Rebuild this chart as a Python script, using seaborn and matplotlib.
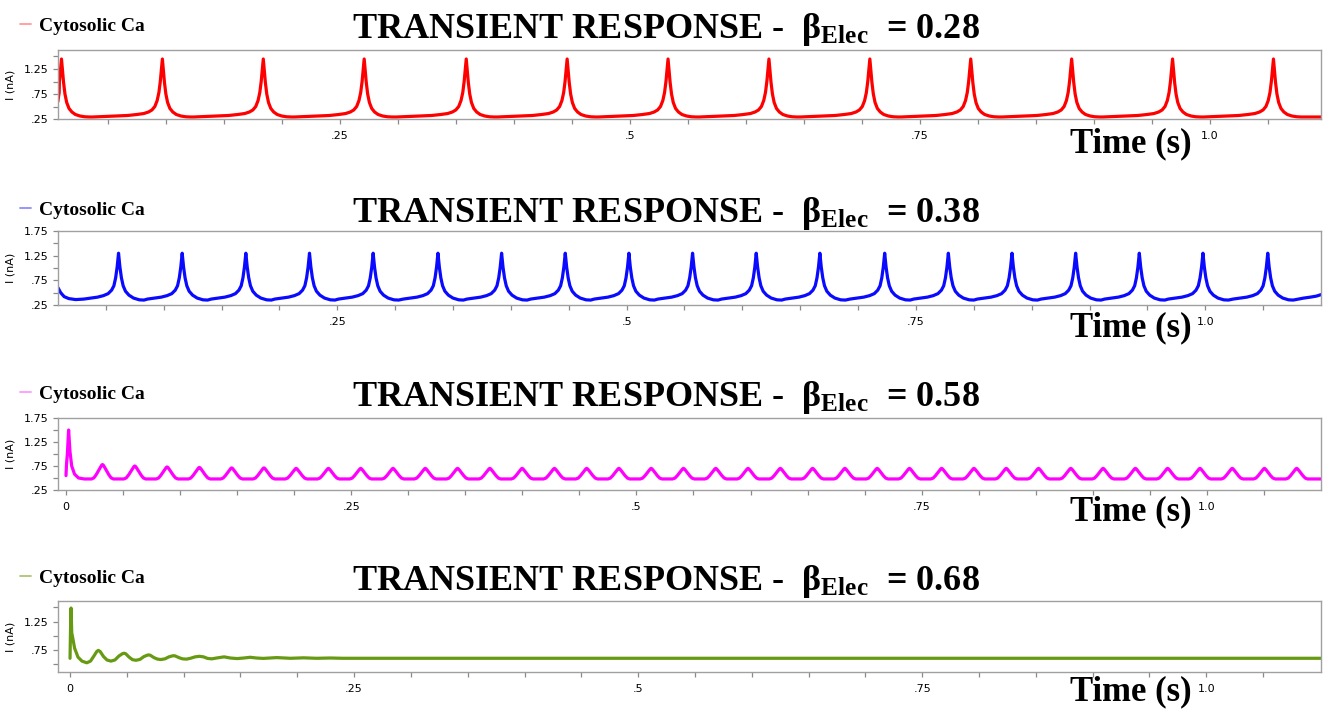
import numpy as np
import pandas as pd
import matplotlib
matplotlib.use("Agg")
import matplotlib.pyplot as plt
import seaborn as sns
from matplotlib.lines import Line2D
from matplotlib.ticker import FixedLocator, FixedFormatter

# ------------------------------------------------------------------
# Data
# ------------------------------------------------------------------
series_label = "Cytosolic Ca"
beta_values = ["0.28", "0.38", "0.58", "0.68"]
x_major_ticks = [0.0, 0.25, 0.5, 0.75, 1.0]
x_major_labels = ["0", ".25", ".5", ".75", "1.0"]
x_minor_ticks = [0.05, 0.10, 0.15, 0.20, 0.30, 0.35, 0.40, 0.45, 0.55, 0.60,
                 0.65, 0.70, 0.80, 0.85, 0.90, 0.95, 1.05]

# Panel 1  (beta = 0.28): spike times (s), peak currents (nA), one spike shape
p1_peak_t = [0.010, 0.097, 0.184, 0.271, 0.359, 0.446, 0.533, 0.620, 0.707,
             0.794, 0.881, 0.968, 1.055]
p1_peak_y = [1.45, 1.45, 1.45, 1.45, 1.45, 1.45, 1.45, 1.45, 1.45, 1.45, 1.45,
             1.45, 1.45]
p1_base = 0.29
p1_shape_dt = [-0.060, -0.050, -0.040, -0.030, -0.022, -0.016, -0.012, -0.009,
               -0.0065, -0.0045, -0.003, -0.0018, -0.0008, 0.0, 0.0008, 0.0018,
               0.003, 0.0045, 0.0065, 0.009, 0.012, 0.016, 0.020, 0.024]
p1_shape_f = [0.0, 0.009, 0.017, 0.026, 0.043, 0.060, 0.086, 0.121, 0.181,
              0.284, 0.422, 0.612, 0.828, 1.0, 0.828, 0.595, 0.397, 0.250,
              0.147, 0.086, 0.043, 0.017, 0.004, 0.0]
p1_head_t, p1_head_y = [0.0069, 0.0080], [0.60, 0.78]
p1_tail_t, p1_tail_y = [1.096], [0.29]

# Panel 2  (beta = 0.38)
p2_peak_t = [0.061, 0.116, 0.171, 0.226, 0.281, 0.337, 0.392, 0.447, 0.502,
             0.557, 0.612, 0.667, 0.723, 0.778, 0.833, 0.888, 0.943, 0.998,
             1.054]
p2_peak_y = [1.30, 1.30, 1.30, 1.30, 1.30, 1.30, 1.30, 1.30, 1.30, 1.30, 1.30,
             1.30, 1.30, 1.30, 1.30, 1.30, 1.30, 1.30, 1.30]
p2_base = 0.35
p2_shape_dt = [-0.030, -0.024, -0.018, -0.013, -0.009, -0.006, -0.004, -0.0025,
               -0.0012, 0.0, 0.0012, 0.0025, 0.004, 0.006, 0.009, 0.013, 0.018,
               0.022]
p2_shape_f = [0.021, 0.042, 0.063, 0.095, 0.137, 0.211, 0.305, 0.474, 0.705,
              1.0, 0.705, 0.474, 0.305, 0.189, 0.105, 0.042, 0.005, 0.0]
p2_head_t, p2_head_y = [0.0087, 0.011, 0.014, 0.018, 0.024], [0.60, 0.50, 0.42, 0.38, 0.36]
p2_tail_t, p2_tail_y = [1.085, 1.091, 1.096, 1.100], [0.39, 0.41, 0.43, 0.46]

# Panel 3  (beta = 0.58)
p3_peak_t = [0.0320, 0.0603, 0.0886, 0.1169, 0.1452, 0.1735, 0.2017, 0.2300,
             0.2583, 0.2866, 0.3149, 0.3432, 0.3715, 0.3998, 0.4281, 0.4564,
             0.4846, 0.5129, 0.5412, 0.5695, 0.5978, 0.6261, 0.6544, 0.6827,
             0.7110, 0.7393, 0.7675, 0.7958, 0.8241, 0.8524, 0.8807, 0.9090,
             0.9373, 0.9656, 0.9939, 1.0222, 1.0504, 1.0787]
p3_peak_y = [0.78, 0.75, 0.73, 0.72, 0.71, 0.71, 0.70, 0.70, 0.70, 0.70, 0.70,
             0.70, 0.70, 0.70, 0.70, 0.70, 0.70, 0.70, 0.70, 0.70, 0.70, 0.70,
             0.70, 0.70, 0.70, 0.70, 0.70, 0.70, 0.70, 0.70, 0.70, 0.70, 0.70,
             0.70, 0.70, 0.70, 0.70, 0.70]
p3_base = 0.48
p3_shape_dt = [-0.0095, -0.0075, -0.0055, -0.0035, -0.0018, -0.0007, 0.0,
               0.0007, 0.0018, 0.0035, 0.0055, 0.0075, 0.0095, 0.0120]
p3_shape_f = [0.0, 0.08, 0.30, 0.58, 0.82, 0.96, 1.0, 0.96, 0.82, 0.58, 0.30,
              0.08, 0.0, 0.0]
p3_head_t = [0.0, 0.0005, 0.0012, 0.0023, 0.0035, 0.0050, 0.0075, 0.0110, 0.0160]
p3_head_y = [0.55, 0.80, 1.00, 1.50, 1.05, 0.75, 0.58, 0.50, 0.48]
p3_tail_t, p3_tail_y = [1.100], [0.48]

# Panel 4  (beta = 0.68): damped oscillation, read point by point
p4_t = [0.0, 0.0004, 0.0009, 0.0015, 0.0022, 0.0040, 0.0070, 0.0105, 0.0147,
        0.0180, 0.0210, 0.0235, 0.0249, 0.0265, 0.0295, 0.0325, 0.0360,
        0.0395, 0.0430, 0.0460, 0.0475, 0.0490, 0.0520, 0.0550, 0.0580,
        0.0615, 0.0650, 0.0680, 0.0690, 0.0705, 0.0740, 0.0770, 0.0800,
        0.0835, 0.0870, 0.0900, 0.0910, 0.0925, 0.0960, 0.0990, 0.1025,
        0.1060, 0.1100, 0.1139, 0.1175, 0.1210, 0.1248,
        0.1290, 0.1356, 0.1410, 0.1470, 0.1530, 0.1585, 0.1640, 0.1700,
        0.1820, 0.1940, 0.2055, 0.2170, 0.2290, 0.2400, 1.101]
p4_y = [0.60, 1.10, 1.49, 1.05, 0.98, 0.78, 0.62, 0.55, 0.52,
        0.55, 0.64, 0.72, 0.74, 0.72, 0.63, 0.57, 0.55,
        0.57, 0.64, 0.68, 0.69, 0.68, 0.62, 0.575, 0.565,
        0.58, 0.63, 0.655, 0.66, 0.655, 0.61, 0.585, 0.578,
        0.59, 0.625, 0.642, 0.645, 0.642, 0.61, 0.59, 0.585,
        0.60, 0.625, 0.635, 0.625, 0.598, 0.59,
        0.605, 0.625, 0.605, 0.595, 0.605, 0.618, 0.605, 0.598,
        0.612, 0.600, 0.608, 0.600, 0.605, 0.600, 0.600]


def spike_train(head_t, head_y, peaks_t, peaks_y, base, dt, frac, tail_t, tail_y):
    t, y = list(head_t), list(head_y)
    for pt, py in zip(peaks_t, peaks_y):
        for d, f in zip(dt, frac):
            if t and pt + d <= t[-1]:
                continue
            t.append(pt + d)
            y.append(base + f * (py - base))
    t += list(tail_t)
    y += list(tail_y)
    return pd.DataFrame({"t": t, "I": y})


frames = [
    spike_train(p1_head_t, p1_head_y, p1_peak_t, p1_peak_y, p1_base,
                p1_shape_dt, p1_shape_f, p1_tail_t, p1_tail_y),
    spike_train(p2_head_t, p2_head_y, p2_peak_t, p2_peak_y, p2_base,
                p2_shape_dt, p2_shape_f, p2_tail_t, p2_tail_y),
    spike_train(p3_head_t, p3_head_y, p3_peak_t, p3_peak_y, p3_base,
                p3_shape_dt, p3_shape_f, p3_tail_t, p3_tail_y),
    pd.DataFrame({"t": p4_t, "I": p4_y}),
]

# ------------------------------------------------------------------
# Styling / layout
# ------------------------------------------------------------------
sns.set_style("white")
plt.rcParams["font.family"] = ["DejaVu Sans"]
plt.rcParams["text.color"] = "black"
plt.rcParams["axes.labelcolor"] = "black"
plt.rcParams["mathtext.fontset"] = "custom"
plt.rcParams["mathtext.rm"] = "Liberation Serif"
plt.rcParams["mathtext.bf"] = "Liberation Serif:bold"
plt.rcParams["mathtext.it"] = "Liberation Serif:italic"

W, H = 1324, 710
fig = plt.figure(figsize=(W / 100, H / 100), dpi=100)
fig.patch.set_facecolor("white")

panels = [
    dict(top=50, bottom=119, xlim=(0.007, 1.096), ylim=(0.25, 1.63),
         color="#ff0000", light="#ff9a9a", off=0),
    dict(top=231, bottom=305, xlim=(0.0087, 1.100), ylim=(0.25, 1.75),
         color="#0a0aff", light="#8c8cff", off=184),
    dict(top=418, bottom=490, xlim=(-0.007, 1.100), ylim=(0.25, 1.75),
         color="#ff00ff", light="#ff99ff", off=368),
    dict(top=601, bottom=672, xlim=(-0.0106, 1.101), ylim=(0.357, 1.615),
         color="#669a12", light="#a9c774", off=552),
]

y_major = [0.25, 0.5, 0.75, 1.0, 1.25, 1.5, 1.75]
y_labels = [".25", "", ".75", "", "1.25", "", "1.75"]
serif = "Liberation Serif"
spine_col = "#a0a0a0"

for i, (cfg, df) in enumerate(zip(panels, frames)):
    left, right = 58, 1321
    ax = fig.add_axes([left / W, 1 - cfg["bottom"] / H, (right - left) / W,
                       (cfg["bottom"] - cfg["top"]) / H])
    sns.lineplot(data=df, x="t", y="I", ax=ax, color=cfg["color"],
                 linewidth=2.3, estimator=None, sort=False, legend=False,
                 label=series_label)
    ax.set_xlim(*cfg["xlim"])
    ax.set_ylim(*cfg["ylim"])

    ax.xaxis.set_major_locator(FixedLocator(x_major_ticks))
    ax.xaxis.set_major_formatter(FixedFormatter(x_major_labels))
    ax.xaxis.set_minor_locator(FixedLocator(x_minor_ticks))
    ax.yaxis.set_major_locator(FixedLocator(y_major))
    ax.yaxis.set_major_formatter(FixedFormatter(y_labels))
    ax.tick_params(axis="both", which="both", direction="out", length=3.5,
                   width=0.9, color="#8a8a8a", labelsize=8, labelcolor="black",
                   pad=3, bottom=True, left=True)
    ax.tick_params(axis="x", which="major", pad=5)
    for sp in ax.spines.values():
        sp.set_color(spine_col)
        sp.set_linewidth(1.0)
    ax.set_xlabel("")
    ax.set_ylabel("I (nA)", fontsize=8, color="black")
    ax.yaxis.set_label_coords((15 - left) / (right - left), 0.5)

    handle = Line2D([0], [0], color=cfg["light"], linewidth=1.3)
    ax.legend(handles=[handle], labels=[series_label], loc="center left",
              bbox_to_anchor=(20 / W, 1 - (26 + cfg["off"]) / H),
              bbox_transform=fig.transFigure, frameon=False, handlelength=0.55,
              handletextpad=0.45, borderpad=0, borderaxespad=0,
              labelcolor="black",
              prop=dict(family=serif, weight="bold", size=14))

    off = cfg["off"]
    fig.text(666 / W, 1 - (38 + off) / H,
             "TRANSIENT RESPONSE -  \u03b2$_{\\mathbf{Elec}}$  = " + beta_values[i],
             ha="center", va="baseline", fontsize=26, fontweight="bold",
             family=serif, color="black")
    time_base = [152, 336, 520, 700][i]
    fig.text(1070 / W, 1 - time_base / H, "Time (s)", ha="left", va="baseline",
             fontsize=25, fontweight="bold", family=serif, color="black")

fig.savefig("out.png", dpi=100, facecolor="white")
